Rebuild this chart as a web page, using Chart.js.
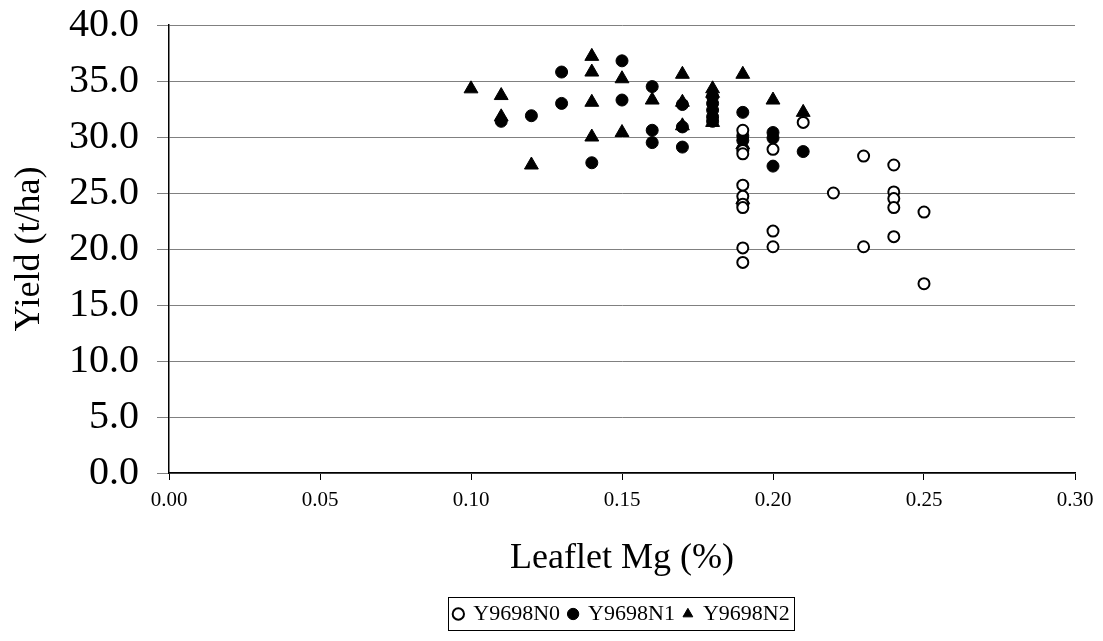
<!DOCTYPE html>
<html>
<head>
<meta charset="utf-8">
<script src="https://cdn.jsdelivr.net/npm/chart.js@4.4.0/dist/chart.umd.min.js"></script>
<style>
  html, body { margin: 0; padding: 0; background: #fff; }
  #wrap { width: 1103px; height: 641px; }
</style>
</head>
<body>
<div id="wrap"><canvas id="chart" width="1103" height="641"></canvas></div>
<script>
// Leaflet Mg (%) and yield (t/ha)
const n0Mg = [0.19, 0.19, 0.19, 0.19, 0.19, 0.19, 0.19, 0.19, 0.19,
  0.20, 0.20, 0.20, 0.21, 0.22, 0.23, 0.23, 0.24, 0.24, 0.24, 0.24, 0.24, 0.25, 0.25];
const n0Yield = [30.6, 28.8, 28.5, 25.7, 24.7, 24.0, 23.7, 20.1, 18.8,
  28.9, 21.6, 20.2, 31.3, 25.0, 28.3, 20.2, 27.5, 25.1, 24.5, 23.7, 21.1, 23.3, 16.9];

const n1Mg = [0.11, 0.12, 0.13, 0.13, 0.14, 0.15, 0.15, 0.16, 0.16, 0.16,
  0.17, 0.17, 0.17, 0.18, 0.18, 0.18, 0.18, 0.18, 0.19, 0.19, 0.19, 0.20, 0.20, 0.20, 0.21];
const n1Yield = [31.4, 31.9, 35.8, 33.0, 27.7, 36.8, 33.3, 34.5, 30.6, 29.5,
  32.9, 30.9, 29.1, 33.6, 33.0, 32.4, 31.8, 31.4, 32.2, 30.1, 29.7, 30.4, 29.9, 27.4, 28.7];

const n2Mg = [0.10, 0.11, 0.11, 0.12, 0.14, 0.14, 0.14, 0.14, 0.15, 0.15, 0.16,
  0.17, 0.17, 0.17, 0.18, 0.18, 0.18, 0.19, 0.19, 0.19, 0.20, 0.21];
const n2Yield = [34.3, 33.7, 31.8, 27.5, 37.2, 35.8, 33.1, 30.0, 35.2, 30.4, 33.3,
  35.6, 33.1, 31.0, 34.3, 33.9, 31.3, 35.6, 29.3, 24.4, 33.3, 32.2];

const seriesNames = ['Y9698N0', 'Y9698N1', 'Y9698N2'];

const FONT = '"Liberation Serif", "Times New Roman", serif';
const LEGEND_SIZE = 22;

function toPoints(xs, ys) {
  return xs.map((x, i) => ({ x: x, y: ys[i] }));
}

// centre the legend under the plot area and draw a box round it
const legendBox = {
  id: 'legendBox',
  afterLayout(chart) {
    const lg = chart.legend;
    const ca = chart.chartArea;
    if (!lg) return;
    lg.left = ca.left;
    lg.right = ca.right;
    lg.width = ca.right - ca.left;
  },
  afterDraw(chart) {
    const lg = chart.legend;
    if (!lg || !lg.lineWidths) return;
    const w = lg.lineWidths[0];
    const cx = (lg.left + lg.right) / 2;
    const pad = lg.options.labels.padding;
    const top = lg.top + pad;
    const ctx = chart.ctx;
    ctx.save();
    ctx.strokeStyle = '#000';
    ctx.lineWidth = 1;
    ctx.strokeRect(Math.round(cx - w / 2 - 2) + 0.5, Math.round(top - 6) + 0.5,
      Math.round(w + 2), LEGEND_SIZE + 11);
    ctx.restore();
  }
};

new Chart(document.getElementById('chart'), {
  type: 'scatter',
  data: {
    datasets: [
      {
        label: seriesNames[0],
        data: toPoints(n0Mg, n0Yield),
        pointStyle: 'circle',
        pointRadius: 5.5,
        borderWidth: 2,
        borderColor: '#000',
        backgroundColor: '#fff'
      },
      {
        label: seriesNames[1],
        data: toPoints(n1Mg, n1Yield),
        pointStyle: 'circle',
        pointRadius: 6,
        borderWidth: 1,
        borderColor: '#000',
        backgroundColor: '#000'
      },
      {
        label: seriesNames[2],
        data: toPoints(n2Mg, n2Yield),
        pointStyle: 'triangle',
        pointRadius: 8,
        borderWidth: 1,
        borderColor: '#000',
        backgroundColor: '#000'
      }
    ]
  },
  options: {
    responsive: false,
    animation: false,
    layout: { padding: { top: 25, right: 28, bottom: 6, left: 0 } },
    plugins: {
      tooltip: { enabled: false },
      legend: {
        position: 'bottom',
        labels: {
          usePointStyle: true,
          boxWidth: 8,
          boxHeight: 8,
          padding: 9,
          color: '#000',
          font: { family: FONT, size: LEGEND_SIZE }
        }
      }
    },
    scales: {
      x: {
        type: 'linear',
        min: 0,
        max: 0.3,
        afterFit(scale) {
          scale.height = 121;
          scale.paddingRight = 0;
          scale.paddingLeft = 0;
        },
        ticks: {
          stepSize: 0.05,
          padding: 8,
          color: '#000',
          font: { family: FONT, size: 21 },
          callback: v => Number(v).toFixed(2)
        },
        grid: { drawOnChartArea: false, drawTicks: true, tickLength: 7, color: '#000' },
        border: { color: '#000', width: 1.5 },
        title: {
          display: true,
          text: 'Leaflet Mg (%)',
          color: '#000',
          font: { family: FONT, size: 36 },
          padding: { top: 0, bottom: 14 }
        }
      },
      y: {
        min: 0,
        max: 40,
        afterFit(scale) {
          scale.width = 169;
          scale.paddingTop = 0;
          scale.paddingBottom = 0;
        },
        ticks: {
          stepSize: 5,
          padding: 18,
          color: '#000',
          font: { family: FONT, size: 40 },
          callback: v => Number(v).toFixed(1)
        },
        grid: { color: '#808080', lineWidth: 1, tickLength: 12 },
        border: { color: '#000', width: 1.5 },
        title: {
          display: true,
          text: 'Yield (t/ha)',
          color: '#000',
          font: { family: FONT, size: 36 },
          padding: { top: 8, bottom: 0 }
        }
      }
    }
  },
  plugins: [legendBox]
});
</script>
</body>
</html>
